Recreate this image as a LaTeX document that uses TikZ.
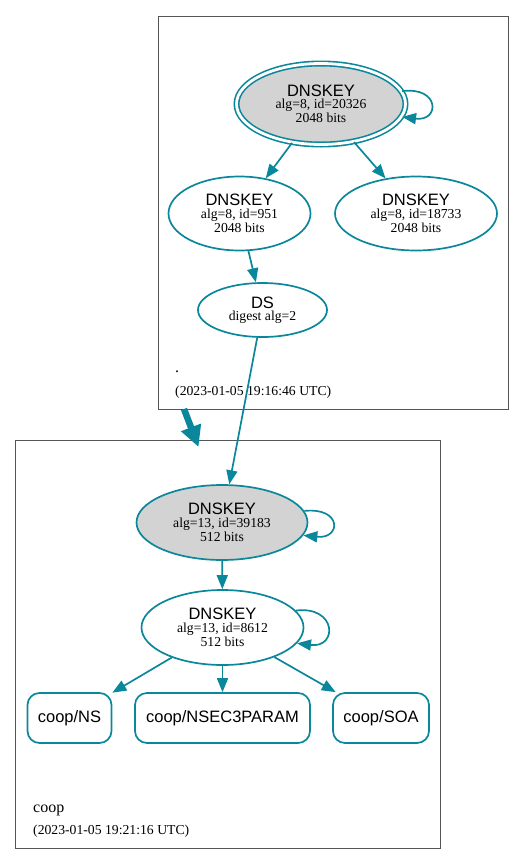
\documentclass[tikz,border=0pt]{standalone}
\usepackage{fontspec}
\setmainfont{Liberation Serif}
\setsansfont{Liberation Sans}
\usetikzlibrary{shapes.geometric,arrows.meta}
\definecolor{sec}{HTML}{0A879A}
\definecolor{zone}{HTML}{555555}
\definecolor{keyfill}{HTML}{D3D3D3}
\newcommand\keytitle[1]{{\sffamily\fontsize{16.5}{14}\selectfont #1}}
\tikzset{
  edge/.style={draw=sec, line width=1.7pt, -{Triangle[length=14pt,width=11pt]}},
  zonearrow/.style={draw=sec, line width=6.5pt, -{Triangle[length=21pt,width=20pt]}},
  keynode/.style={ellipse, draw=sec, line width=1.7pt, inner sep=0pt, align=center,
    font=\fontsize{13.7}{14}\selectfont},
  rrnode/.style={rectangle, rounded corners=12pt, draw=sec, line width=1.7pt, inner sep=0pt,
    minimum height=50pt, font=\sffamily\fontsize{16.5}{18}\selectfont},
  zonebox/.style={rectangle, draw=zone, line width=0.9pt, inner sep=0pt},
  zonename/.style={anchor=base west, inner sep=0pt, font=\fontsize{16}{16}\selectfont},
  zonetime/.style={anchor=base west, inner sep=0pt, font=\fontsize{13.7}{14}\selectfont},
}
\begin{document}
\begin{tikzpicture}[x=1pt,y=1pt]
\useasboundingbox (0,0) rectangle (524,-865);
% zones
\node[zonebox, minimum width=350pt, minimum height=393pt] (rootzone) at (333,-212.5) {};
\node[zonebox, minimum width=425pt, minimum height=408pt] (coopzone) at (227.5,-644) {};
\node[zonename] (rootname) at (175,-372) {.};
\node[zonetime] (roottime) at (175,-395) {(2023-01-05 19:16:46 UTC)};
\node[zonename] (coopname) at (33,-812) {coop};
\node[zonetime] (cooptime) at (33,-834) {(2023-01-05 19:21:16 UTC)};
% root zone keys
\node[keynode, fill=keyfill, double=white, double distance=2.8pt, line width=1.6pt,
  minimum width=169pt, minimum height=81pt] (ksk) at (321,-104)
  {\keytitle{DNSKEY}\\[-1.5pt]alg=8, id=20326\\2048 bits};
\node[keynode, minimum width=142pt, minimum height=74pt] (k951) at (239.5,-213.5)
  {\keytitle{DNSKEY}\\[-1.5pt]alg=8, id=951\\2048 bits};
\node[keynode, minimum width=162pt, minimum height=74pt] (k18733) at (416,-213.5)
  {\keytitle{DNSKEY}\\[-1.5pt]alg=8, id=18733\\2048 bits};
\node[keynode, minimum width=129pt, minimum height=54pt] (ds) at (262.5,-310)
  {\keytitle{DS}\\[-1.5pt]digest alg=2};
% coop zone keys
\node[keynode, fill=keyfill, minimum width=171pt, minimum height=75pt] (coopksk) at (222,-522.5)
  {\keytitle{DNSKEY}\\[-1.5pt]alg=13, id=39183\\512 bits};
\node[keynode, minimum width=162pt, minimum height=75pt] (coopzsk) at (222.5,-627.5)
  {\keytitle{DNSKEY}\\[-1.5pt]alg=13, id=8612\\512 bits};
% records
\node[rrnode, minimum width=84pt] (ns) at (69.5,-718) {coop/NS};
\node[rrnode, minimum width=175pt] (nsec3) at (222.5,-718) {coop/NSEC3PARAM};
\node[rrnode, minimum width=96pt] (soa) at (381,-718) {coop/SOA};
% edges
\draw[edge] (ksk.9) .. controls +(38,5) and +(38,-5) .. (ksk.-9);
\draw[edge] (ksk) -- (k951);
\draw[edge] (ksk) -- (k18733);
\draw[edge] (k951) -- (ds);
\draw[edge] (ds) -- (coopksk);
\draw[edge] (coopksk.8) .. controls +(38,4) and +(38,-4) .. (coopksk.-9);
\draw[edge] (coopksk) -- (coopzsk);
\draw[edge] (coopzsk.13) .. controls +(41,5) and +(41,-5) .. (coopzsk.-12);
\draw[edge] (coopzsk) -- (ns);
\draw[edge] (coopzsk) -- (nsec3);
\draw[edge] (coopzsk) -- (soa);
% zone delegation
\coordinate (dtail) at (184,-409);
\coordinate (dhead) at (198.5,-447);
\draw[zonearrow] (dtail) -- (dhead);
\end{tikzpicture}
\end{document}
